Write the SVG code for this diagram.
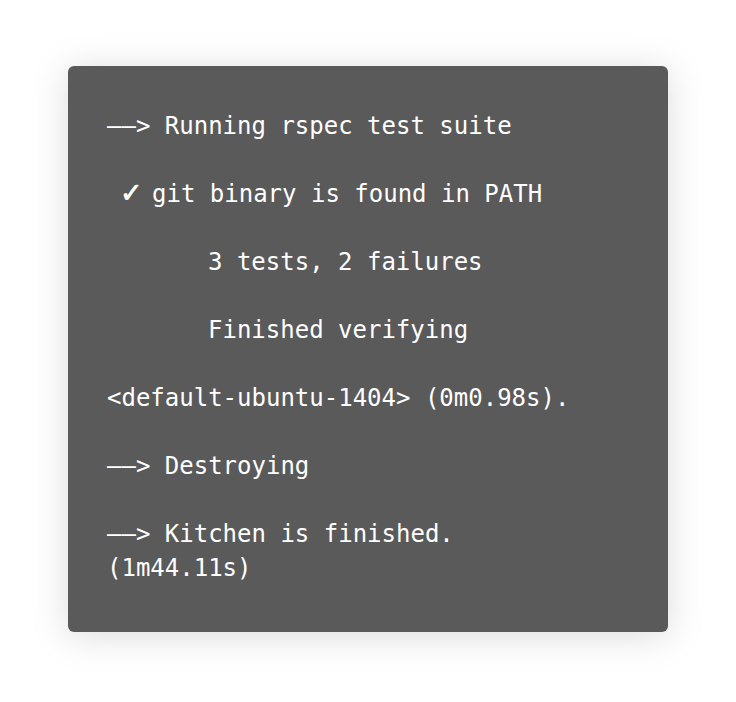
<svg xmlns="http://www.w3.org/2000/svg" width="736" height="702" viewBox="0 0 736 702">
<defs>
<filter id="sh" x="-20%" y="-20%" width="140%" height="140%">
<feDropShadow dx="0" dy="4" stdDeviation="18" flood-color="#000" flood-opacity="0.14"/>
</filter>
<style>
.t{font-family:"DejaVu Sans Mono","Liberation Mono",monospace;font-size:24px;fill:#ffffff;}
.ck{font-family:"DejaVu Sans","Liberation Sans",sans-serif;font-size:27px;font-weight:bold;stroke:#ffffff;stroke-width:0.8px;}
</style>
</defs>
<rect width="736" height="702" fill="#ffffff"/>
<g id="terminal">
<rect x="68" y="66" width="600" height="566" rx="6" ry="6" fill="#5a5a5a" filter="url(#sh)"/>
<text class="t" x="107" y="134">——&gt; Running rspec test suite</text>
<text class="t" y="202"><tspan class="ck" x="120">✓</tspan><tspan x="152">git binary is found in PATH</tspan></text>
<text class="t" x="208" y="270">3 tests, 2 failures</text>
<text class="t" x="208" y="338">Finished verifying</text>
<text class="t" x="107" y="406">&lt;default-ubuntu-1404&gt; (0m0.98s).</text>
<text class="t" x="107" y="474">——&gt; Destroying</text>
<text class="t" x="107" y="542">——&gt; Kitchen is finished.</text>
<text class="t" x="107" y="576">(1m44.11s)</text>
</g>
</svg>
